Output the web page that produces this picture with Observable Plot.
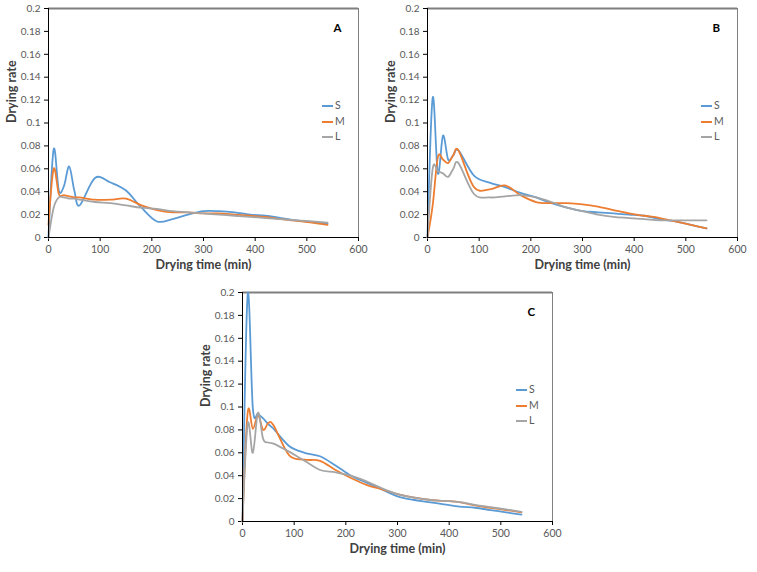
<!DOCTYPE html>
<html>
<head>
<meta charset="utf-8">
<script src="https://cdn.jsdelivr.net/npm/d3@7"></script>
<script src="https://cdn.jsdelivr.net/npm/@observablehq/plot@0.6"></script>
<style>
  html, body { margin: 0; padding: 0; background: #fff; }
  #wrap { position: relative; width: 757px; height: 572px; background: #fff; font-family: Lato, "Open Sans", sans-serif; }
  .panel { position: absolute; }
  .legend { position: absolute; font-size: 10.5px; color: #595959; }
  .legend div { position: absolute; white-space: nowrap; height: 12px; line-height: 12px; }
  .legend span.sw { display: inline-block; width: 11px; height: 2px; vertical-align: middle; margin-right: 2px; }
</style>
</head>
<body>
<div id="wrap"></div>
<script>
// ---- data ----
const SERIES = ["S", "M", "L"];
const COLORS = ["#5B9BD5", "#ED7D31", "#A5A5A5"];
const TIME = [0, 10, 20, 30, 40, 50, 60, 90, 120, 150, 180, 210, 240, 270, 300, 330, 360, 390, 420, 450, 480, 510, 540];
const X_TICKS = [0, 100, 200, 300, 400, 500, 600];
const Y_TICKS = [0, 0.02, 0.04, 0.06, 0.08, 0.1, 0.12, 0.14, 0.16, 0.18, 0.2];
const PANELS = ["A", "B", "C"];
const X_TITLE = "Drying time (min)";
const Y_TITLE = "Drying rate";

const A_S = [0, 0.077, 0.041, 0.045, 0.062, 0.041, 0.028, 0.052, 0.048, 0.041, 0.026, 0.014, 0.016, 0.020, 0.023, 0.023, 0.022, 0.020, 0.019, 0.017, 0.015, 0.0135, 0.012];
const A_M = [0.011, 0.060, 0.038, 0.037, 0.036, 0.035, 0.035, 0.033, 0.033, 0.034, 0.028, 0.024, 0.022, 0.022, 0.021, 0.021, 0.020, 0.019, 0.018, 0.016, 0.0145, 0.013, 0.011];
const A_L = [0, 0.026, 0.035, 0.035, 0.034, 0.034, 0.033, 0.031, 0.030, 0.028, 0.026, 0.025, 0.023, 0.022, 0.021, 0.020, 0.019, 0.018, 0.017, 0.016, 0.015, 0.014, 0.013];

const B_S = [0, 0.122, 0.056, 0.089, 0.068, 0.072, 0.076, 0.054, 0.048, 0.044, 0.039, 0.035, 0.030, 0.026, 0.023, 0.022, 0.021, 0.020, 0.019, 0.016, 0.014, 0.011, 0.008];
const B_M = [0, 0.028, 0.070, 0.068, 0.065, 0.072, 0.076, 0.044, 0.042, 0.0455, 0.037, 0.031, 0.030, 0.030, 0.029, 0.027, 0.024, 0.021, 0.019, 0.017, 0.014, 0.011, 0.008];
const B_L = [0, 0.060, 0.058, 0.056, 0.053, 0.060, 0.065, 0.038, 0.035, 0.036, 0.037, 0.035, 0.031, 0.026, 0.023, 0.020, 0.018, 0.017, 0.016, 0.015, 0.015, 0.015, 0.015];

const C_S = [0, 0.198, 0.099, 0.094, 0.090, 0.085, 0.081, 0.066, 0.060, 0.057, 0.049, 0.040, 0.034, 0.028, 0.022, 0.019, 0.017, 0.015, 0.013, 0.012, 0.010, 0.008, 0.006];
const C_M = [0, 0.095, 0.081, 0.093, 0.080, 0.086, 0.084, 0.058, 0.054, 0.053, 0.045, 0.038, 0.032, 0.028, 0.024, 0.021, 0.019, 0.018, 0.017, 0.014, 0.012, 0.010, 0.008];
const C_L = [0, 0.085, 0.060, 0.095, 0.072, 0.069, 0.068, 0.061, 0.053, 0.045, 0.043, 0.040, 0.035, 0.029, 0.024, 0.021, 0.019, 0.018, 0.017, 0.0145, 0.0125, 0.0105, 0.0085];

const PANEL_DATA = { A: [A_S, A_M, A_L], B: [B_S, B_M, B_L], C: [C_S, C_M, C_L] };
const PANEL_POS = { A: [0, 0], B: [379, 0], C: [194, 284] };

const W = 378, H = 280, ML = 48, MR = 20, MT = 8, MB = 43;
const FONT = "Lato, 'Open Sans', sans-serif";

function makePanel(letter) {
  const series = PANEL_DATA[letter];
  const rows = [];
  SERIES.forEach((k, si) => TIME.forEach((t, i) => rows.push({ t, v: series[si][i], k })));
  return Plot.plot({
    width: W, height: H,
    marginLeft: ML, marginRight: MR, marginTop: MT, marginBottom: MB,
    style: { fontFamily: FONT, fontSize: "10px", background: "transparent", overflow: "visible" },
    x: { domain: [0, 600] },
    y: { domain: [0, 0.2] },
    color: { domain: SERIES, range: COLORS },
    marks: [
      Plot.ruleY([0.2], { stroke: "#7f7f7f", strokeWidth: 2 }),
      Plot.ruleX([600], { stroke: "#7f7f7f", strokeWidth: 1 }),
      Plot.axisX({ ticks: X_TICKS, tickSize: 4, tickPadding: 4, fill: "#595959", stroke: "#000", label: null, fontSize: 10.5 }),
      Plot.axisY({ ticks: Y_TICKS, tickSize: 4, tickPadding: 4, fill: "#595959", stroke: "#000", label: null, fontSize: 10,
                   tickFormat: d => String(+d.toFixed(2)) }),
      Plot.line(rows, { x: "t", y: "v", z: "k", stroke: "k", curve: "cardinal", tension: 0, strokeWidth: 1.8 }),
      Plot.ruleX([0], { stroke: "#000", strokeWidth: 1 }),
      Plot.ruleY([0], { stroke: "#000", strokeWidth: 1 }),
      Plot.text([letter], { frameAnchor: "top-left", dx: 285, dy: 15, fontWeight: "bold", fontSize: 11.5, fill: "#000" }),
      Plot.text([X_TITLE], { frameAnchor: "bottom", dy: 31, fontWeight: "bold", fontSize: 12.5, fill: "#404040" }),
      Plot.text([Y_TITLE], { frameAnchor: "left", dx: -37, rotate: -90, fontWeight: "bold", fontSize: 12.5, fill: "#404040" })
    ]
  });
}

const wrap = document.getElementById("wrap");
PANELS.forEach(letter => {
  const [x0, y0] = PANEL_POS[letter];
  const div = document.createElement("div");
  div.className = "panel";
  div.style.left = x0 + "px";
  div.style.top = y0 + "px";
  div.appendChild(makePanel(letter));
  wrap.appendChild(div);

  const leg = document.createElement("div");
  leg.className = "legend";
  leg.style.left = (x0 + 322) + "px";
  leg.style.top = (y0 + 99) + "px";
  SERIES.forEach((k, i) => {
    const row = document.createElement("div");
    row.style.top = (i * 15.5) + "px";
    row.innerHTML = `<span class="sw" style="background:${COLORS[i]}"></span>${k}`;
    leg.appendChild(row);
  });
  wrap.appendChild(leg);
});
</script>
</body>
</html>
